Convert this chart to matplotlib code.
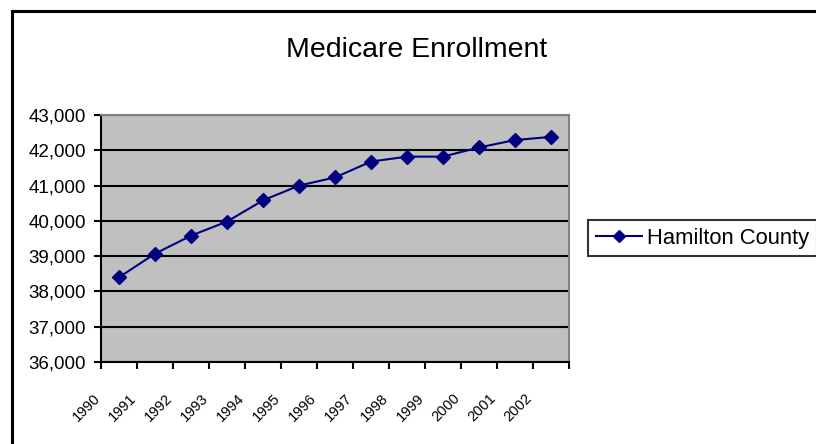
import matplotlib
matplotlib.use('Agg')
import matplotlib.pyplot as plt
from matplotlib.lines import Line2D
from matplotlib.ticker import FuncFormatter
from matplotlib.transforms import ScaledTranslation

# ── Data ──────────────────────────────────────────────────────────────────────
YEARS = ['1990', '1991', '1992', '1993', '1994', '1995', '1996',
         '1997', '1998', '1999', '2000', '2001', '2002']
ENROLLMENT = [38400, 39070, 39580, 39980, 40580, 41000, 41230,
              41680, 41820, 41820, 42080, 42290, 42380]
SERIES = 'Hamilton County'
TITLE = 'Medicare Enrollment'

NAVY = '#000080'
PLOT_BG = '#c0c0c0'

plt.rcParams['font.family'] = ['Liberation Sans', 'DejaVu Sans']

fig = plt.figure(figsize=(8.16, 4.44), dpi=100, facecolor='white')
ax = fig.add_axes([101 / 816, 82 / 444, 468 / 816, 247 / 444])
ax.set_facecolor(PLOT_BG)

# points sit between the category tick marks
xs = [i + 0.5 for i in range(len(YEARS))]
ax.plot(xs, ENROLLMENT, color=NAVY, linewidth=1.5, marker='D',
        markersize=7, zorder=3)

ax.set_xlim(0, len(YEARS))
ax.set_ylim(36000, 43000)
ax.set_yticks(range(36000, 43001, 1000))
ax.yaxis.set_major_formatter(FuncFormatter(lambda v, _: f'{int(v):,}'))
ax.grid(axis='y', color='black', linewidth=1.5, zorder=1)
ax.set_axisbelow(True)

ax.set_xticks(range(len(YEARS) + 1))
ax.set_xticklabels(YEARS + [''], rotation=45, ha='right',
                   rotation_mode='anchor', fontsize=10.5)
ax.tick_params(axis='x', length=5, width=1.5, direction='out', pad=16)
ax.tick_params(axis='y', length=5, width=1.5, direction='out', labelsize=13.5,
               pad=6)
shift = ScaledTranslation(-0.08, 0, fig.dpi_scale_trans)
for lbl in ax.get_xticklabels():
    lbl.set_transform(lbl.get_transform() + shift)

for s in ('left', 'bottom'):
    ax.spines[s].set_color('black')
    ax.spines[s].set_linewidth(1.5)
for s in ('top', 'right'):
    ax.spines[s].set_color('#808080')
    ax.spines[s].set_linewidth(1.5)

fig.text(417 / 816, 1 - 50 / 444, TITLE, ha='center', va='center',
         fontsize=20.5)

handle = Line2D([], [], color=NAVY, linewidth=1.5, marker='D', markersize=6)
leg = fig.legend([handle], [SERIES], loc='center left',
                 bbox_to_anchor=(588 / 816, 1 - 238 / 444), fontsize=15.8,
                 frameon=True, fancybox=False, handlelength=2.1,
                 handletextpad=0.25, borderpad=0.35, borderaxespad=0)
leg.get_frame().set_edgecolor('black')
leg.get_frame().set_linewidth(1.5)

# outer chart border (runs off the right and bottom of the image)
fig.add_artist(Line2D([11.5 / 816, 11.5 / 816], [0, 1 - 11 / 444],
                      color='black', linewidth=2.2))
fig.add_artist(Line2D([11.5 / 816, 1], [1 - 11 / 444, 1 - 11 / 444],
                      color='black', linewidth=2.2))

fig.savefig('out.png', dpi=100, facecolor='white')
